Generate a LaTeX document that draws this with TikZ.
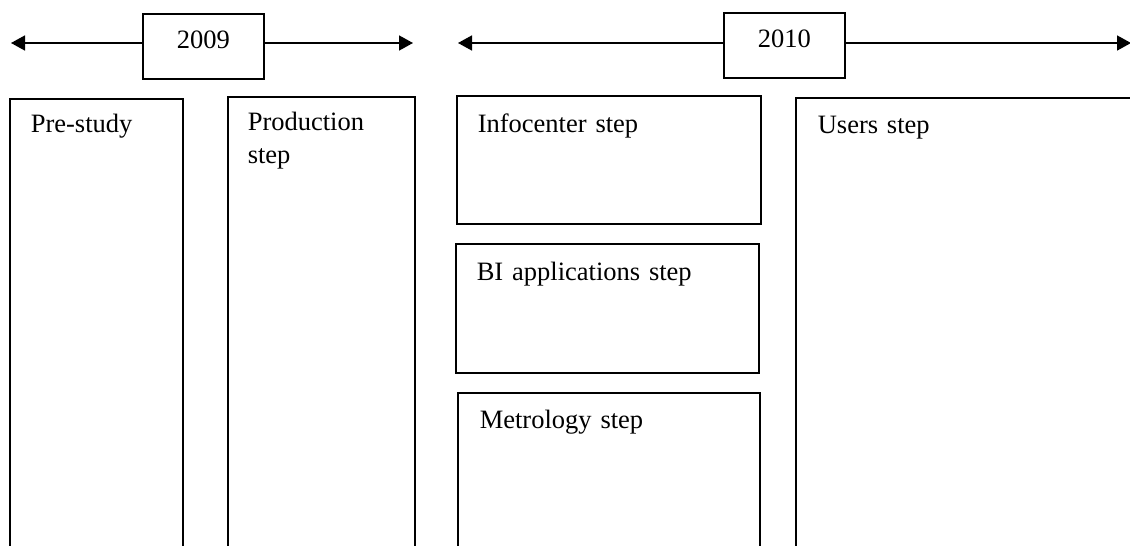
\documentclass[tikz,border=0pt]{standalone}
\usepackage{fontspec}
\setmainfont{Liberation Serif}
\usetikzlibrary{arrows.meta, calc}

\begin{document}
\begin{tikzpicture}[x=0.5pt, y=-0.5pt, line width=0.8pt,
    font=\fontsize{13.25}{16.5}\selectfont,
    stepbox/.style={draw, inner sep=0pt, anchor=north west},
    yearbox/.style={draw, inner sep=0pt, anchor=north west, text height=17.5pt, text depth=15pt, minimum width=60.5pt},
    steptext/.style={anchor=base west, inner sep=0pt, text width=140pt, align=left},
    timeline/.style={-{Triangle[length=7pt, width=7.5pt]}}]
        \useasboundingbox (0,0) rectangle (1130,546);
        \clip (0,0) rectangle (1130,546);
        % years
        \node[yearbox] (y2009) at (142,13) {2009};
        \node[yearbox] (y2010) at (723,12) {2010};
        \coordinate (t09l) at (11,43);
        \coordinate (t09r) at (413,43);
        \coordinate (t10l) at (458,43);
        \coordinate (t10r) at (1131,43);
        \draw[timeline] (y2009.west |- t09l) -- (t09l);
        \draw[timeline] (y2009.east |- t09r) -- (t09r);
        \draw[timeline] (y2010.west |- t10l) -- (t10l);
        \draw[timeline] (y2010.east |- t10r) -- (t10r);
        % steps
        \node[stepbox, minimum width=86.5pt, minimum height=235pt] (pre) at (9,98) {};
        \node[stepbox, minimum width=93.5pt, minimum height=235pt] (prod) at (227,96) {};
        \node[stepbox, minimum width=152pt, minimum height=64pt] (info) at (456,95) {};
        \node[stepbox, minimum width=151.5pt, minimum height=64.5pt] (bi) at (455,243) {};
        \node[stepbox, minimum width=151pt, minimum height=235pt] (metro) at (457,392) {};
        \node[stepbox, minimum width=180pt, minimum height=235pt] (users) at (795,97) {};
        \node[steptext] (preT) at ($(pre.north west)+(21,34)$) {Pre-study};
        \node[steptext] (prodT) at ($(prod.north west)+(20,34)$) {Production\\step};
        \node[steptext] (infoT) at ($(info.north west)+(21,37)$) {Infocenter step};
        \node[steptext] (biT) at ($(bi.north west)+(21,37)$) {BI applications step};
        \node[steptext] (metroT) at ($(metro.north west)+(22,36)$) {Metrology step};
        \node[steptext] (usersT) at ($(users.north west)+(22,36)$) {Users step};
\end{tikzpicture}
\end{document}
